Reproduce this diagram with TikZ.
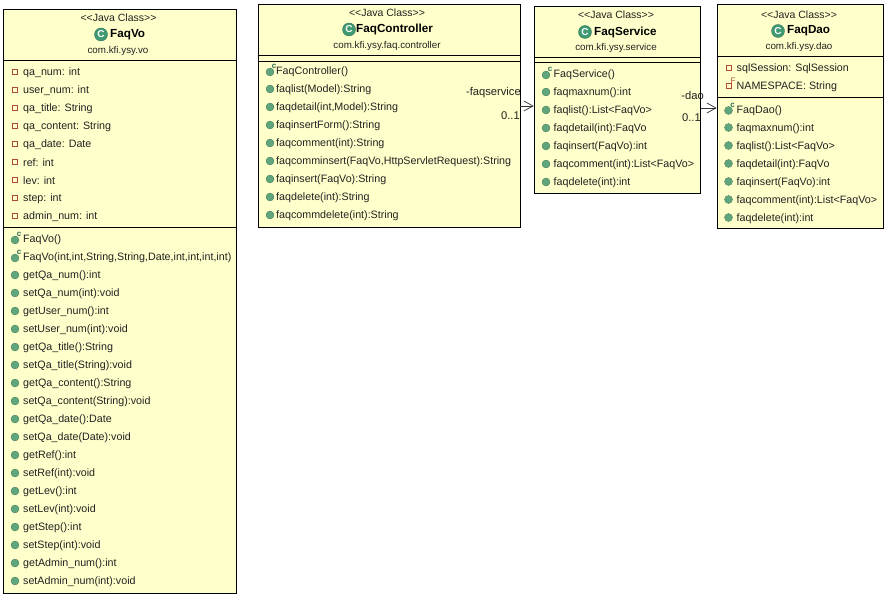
\documentclass[tikz,border=0pt]{standalone}
\usepackage{fontspec}
\setmainfont{Liberation Sans}
\usetikzlibrary{arrows.meta}
\definecolor{boxfill}{HTML}{FFFFCB}
\definecolor{mgreen}{HTML}{5FA67C}
\definecolor{cgreen}{HTML}{3F9A72}
\definecolor{attrred}{HTML}{B0483C}
\definecolor{txt}{HTML}{222222}
\newcount\rowc
\tikzset{
  x=1pt,y=-1pt,
  classbox/.style={draw=black,line width=0.8pt,fill=boxfill,anchor=north west,inner sep=0pt},
  divider/.style={draw=black,line width=0.8pt},
  rowtxt/.style={anchor=west,inner sep=0pt,yshift=-0.8pt,text=txt,font=\fontsize{10.7}{12}\selectfont},
  stereo/.style={inner sep=0pt,text=txt,font=\fontsize{10.5}{12}\selectfont},
  pkg/.style={inner sep=0pt,text=txt,font=\fontsize{9.8}{11}\selectfont},
  cname/.style={anchor=west,inner sep=0pt,text=black,font=\bfseries\fontsize{11.7}{13}\selectfont},
  cicon/.style={circle,fill=cgreen,draw=cgreen!70!black,line width=0.3pt,minimum size=13pt,inner sep=0pt,text=white,font=\bfseries\fontsize{10}{11}\selectfont},
  micon/.style={circle,fill=mgreen,draw=mgreen!70!black,line width=0.3pt,minimum size=8pt,inner sep=0pt},
  aicon/.style={rectangle,fill=boxfill,draw=attrred,line width=1.3pt,minimum size=4.4pt,inner sep=0pt},
  sup/.style={inner sep=0pt,text=cgreen!70!black,font=\bfseries\fontsize{8}{9}\selectfont},
  supf/.style={inner sep=0pt,text=attrred,font=\fontsize{8}{9}\selectfont},
  lbl/.style={inner sep=0pt,text=txt,font=\fontsize{11.2}{12}\selectfont},
  assoc/.style={draw=black!80,line width=0.7pt,-{Straight Barb[length=9pt,width=10pt]}},
}
\newcommand{\nextrow}{\global\advance\rowc by 1 }
\newcommand{\jc}{<\kern0pt<Java Class>\kern0pt>}
% x of icon, x of text, y, text
\newcommand{\mrow}[4]{\nextrow
  \node[micon] (mi\the\rowc) at (#1,#3) {};
  \node[rowtxt] (mt\the\rowc) at (#2,#3) {#4};}
\newcommand{\crow}[4]{\nextrow
  \node[micon] (ci\the\rowc) at (#1,#3+1) {};
  \node[sup] (cs\the\rowc) at (#1+4,#3-4.5) {c};
  \node[rowtxt] (ct\the\rowc) at (#2,#3) {#4};}
\newcommand{\arow}[4]{\nextrow
  \node[aicon] (ai\the\rowc) at (#1,#3) {};
  \node[rowtxt] (at\the\rowc) at (#2,#3) {#4};}
\begin{document}
\begin{tikzpicture}
\useasboundingbox (0,0) rectangle (887,596);
\fill[white] (0,0) rectangle (887,596);

% ---------- FaqVo
\node[classbox,minimum width=232.5pt,minimum height=584pt] (vo) at (3.2,8.6) {};
\draw[divider] (3.2,60.5) -- (235.7,60.5);
\draw[divider] (3.2,227.5) -- (235.7,227.5);
\node[stereo] (vos) at (118.5,18) {\jc};
\node[cicon] (voi) at (101,34.5) {C};
\node[cname] (von) at (110,34.5) {FaqVo};
\node[pkg] (vop) at (118,51) {com.kfi.ysy.vo};
\arow{15}{23}{72}{qa\_num: int}
\arow{15}{23}{90}{user\_num: int}
\arow{15}{23}{108}{qa\_title: String}
\arow{15}{23}{126}{qa\_content: String}
\arow{15}{23}{144}{qa\_date: Date}
\arow{15}{23}{162}{ref: int}
\arow{15}{23}{180}{lev: int}
\arow{15}{23}{198}{step: int}
\arow{15}{23}{216}{admin\_num: int}
\crow{15}{23}{239}{FaqVo()}
\crow{15}{23}{257}{FaqVo(int,int,String,String,Date,int,int,int,int)}
\mrow{15}{23}{275}{getQa\_num():int}
\mrow{15}{23}{293}{setQa\_num(int):void}
\mrow{15}{23}{311}{getUser\_num():int}
\mrow{15}{23}{329}{setUser\_num(int):void}
\mrow{15}{23}{347}{getQa\_title():String}
\mrow{15}{23}{365}{setQa\_title(String):void}
\mrow{15}{23}{383}{getQa\_content():String}
\mrow{15}{23}{401}{setQa\_content(String):void}
\mrow{15}{23}{419}{getQa\_date():Date}
\mrow{15}{23}{437}{setQa\_date(Date):void}
\mrow{15}{23}{455}{getRef():int}
\mrow{15}{23}{473}{setRef(int):void}
\mrow{15}{23}{491}{getLev():int}
\mrow{15}{23}{509}{setLev(int):void}
\mrow{15}{23}{527}{getStep():int}
\mrow{15}{23}{545}{setStep(int):void}
\mrow{15}{23}{563}{getAdmin\_num():int}
\mrow{15}{23}{581}{setAdmin\_num(int):void}

% ---------- FaqController
\node[classbox,minimum width=262pt,minimum height=223pt] (ctl) at (257.6,3.6) {};
\draw[divider] (257.6,55.5) -- (519.6,55.5);
\draw[divider] (257.6,61.5) -- (519.6,61.5);
\node[stereo] (ctls) at (387,13) {\jc};
\node[cicon] (ctli) at (349,29.5) {C};
\node[cname] (ctln) at (356,29.5) {FaqController};
\node[pkg] (ctlp) at (387,45.5) {com.kfi.ysy.faq.controller};
\crow{270}{276}{71}{FaqController()}
\mrow{270}{276}{89}{faqlist(Model):String}
\mrow{270}{276}{107}{faqdetail(int,Model):String}
\mrow{270}{276}{125}{faqinsertForm():String}
\mrow{270}{276}{143}{faqcomment(int):String}
\mrow{270}{276}{161}{faqcomminsert(FaqVo,HttpServletRequest):String}
\mrow{270}{276}{179}{faqinsert(FaqVo):String}
\mrow{270}{276}{197}{faqdelete(int):String}
\mrow{270}{276}{215}{faqcommdelete(int):String}

% ---------- FaqService
\node[classbox,minimum width=166.5pt,minimum height=187pt] (svc) at (533.6,5.6) {};
\draw[divider] (533.6,57) -- (700.1,57);
\draw[divider] (533.6,62.5) -- (700.1,62.5);
\node[stereo] (svcs) at (616,15) {\jc};
\node[cicon] (svci) at (585,32) {C};
\node[cname] (svcn) at (594,32) {FaqService};
\node[pkg] (svcp) at (616,48) {com.kfi.ysy.service};
\crow{546}{553.5}{74}{FaqService()}
\mrow{546}{553.5}{92}{faqmaxnum():int}
\mrow{546}{553.5}{110}{faqlist():List<FaqVo>}
\mrow{546}{553.5}{128}{faqdetail(int):FaqVo}
\mrow{546}{553.5}{146}{faqinsert(FaqVo):int}
\mrow{546}{553.5}{164}{faqcomment(int):List<FaqVo>}
\mrow{546}{553.5}{182}{faqdelete(int):int}

% ---------- FaqDao
\node[classbox,minimum width=166.5pt,minimum height=224pt] (dao) at (716.6,4.2) {};
\draw[divider] (716.6,56) -- (883.1,56);
\draw[divider] (716.6,97.5) -- (883.1,97.5);
\node[stereo] (daos) at (799,14.5) {\jc};
\node[cicon] (daoi) at (778,31) {C};
\node[cname] (daon) at (787,31) {FaqDao};
\node[pkg] (daop) at (799,47) {com.kfi.ysy.dao};
\arow{729}{736.5}{68}{sqlSession: SqlSession}
\arow{729}{736.5}{86}{NAMESPACE: String}
\node[supf] (daof) at (733,81) {F};
\crow{728.5}{736.5}{109.5}{FaqDao()}
\mrow{728.5}{736.5}{127.5}{faqmaxnum():int}
\mrow{728.5}{736.5}{145.5}{faqlist():List<FaqVo>}
\mrow{728.5}{736.5}{163.5}{faqdetail(int):FaqVo}
\mrow{728.5}{736.5}{181.5}{faqinsert(FaqVo):int}
\mrow{728.5}{736.5}{199.5}{faqcomment(int):List<FaqVo>}
\mrow{728.5}{736.5}{217.5}{faqdelete(int):int}

% ---------- Associations
\coordinate (ya) at (0,106);
\coordinate (yb) at (0,108);
\draw[assoc] (ctl.east |- ya) -- (svc.west |- ya);
\draw[assoc] (svc.east |- yb) -- (dao.west |- yb);
\node[lbl,anchor=east] (l1) at (521,93) {-faqservice};
\node[lbl,anchor=east] (l2) at (520,116) {0..1};
\node[lbl,anchor=east] (l3) at (704,95) {-dao};
\node[lbl,anchor=east] (l4) at (701,118) {0..1};
\end{tikzpicture}
\end{document}
